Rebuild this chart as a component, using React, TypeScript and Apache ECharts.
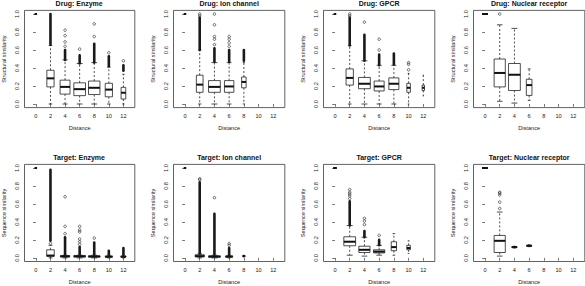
import React, { useEffect, useRef } from "react";
import * as echarts from "echarts";

// ---------- data ----------
const distances = [0, 2, 4, 6, 8, 10, 12];
const yTicks = [0, 0.2, 0.4, 0.6, 0.8, 1.0];

const panelTitles = [
  "Drug: Enzyme",
  "Drug: Ion channel",
  "Drug: GPCR",
  "Drug: Nuclear receptor",
  "Target: Enzyme",
  "Target: Ion channel",
  "Target: GPCR",
  "Target: Nuclear receptor",
];
const drugYLabel = "Structural similarity";
const targetYLabel = "Sequence similarity";
const xLabel = "Distance";

// box rows: [distance, lowerWhisker, q1, median, q3, upperWhisker, relativeGroupSize(sqrt n / max)]
// dense outlier runs: [distance, from, to]
// single outliers: [distance, value]

const drugEnzymeBoxes = [
  [0, 1, 1, 1, 1, 1, 0.2],
  [2, 0, 0.19, 0.285, 0.375, 0.65, 0.62],
  [4, 0, 0.11, 0.19, 0.265, 0.49, 0.85],
  [6, 0, 0.093, 0.165, 0.235, 0.45, 1.0],
  [8, 0, 0.105, 0.18, 0.255, 0.46, 0.98],
  [10, 0, 0.08, 0.16, 0.23, 0.41, 0.62],
  [12, 0, 0.055, 0.125, 0.185, 0.33, 0.4],
];
const drugEnzymeDense = [
  [2, 0.66, 1.0],
  [4, 0.49, 0.6],
  [6, 0.45, 0.54],
  [8, 0.46, 0.67],
  [10, 0.42, 0.53],
  [12, 0.37, 0.43],
];
const drugEnzymeOutliers = [
  [4, 0.64], [4, 0.69], [4, 0.76], [4, 0.82],
  [6, 0.61],
  [8, 0.75], [8, 0.89],
  [10, 0.57],
  [12, 0.48],
];

const drugIonBoxes = [
  [0, 1, 1, 1, 1, 1, 0.2],
  [2, 0, 0.13, 0.215, 0.32, 0.6, 0.57],
  [4, 0, 0.13, 0.19, 0.26, 0.46, 1.0],
  [6, 0, 0.13, 0.195, 0.26, 0.46, 0.8],
  [8, 0, 0.18, 0.245, 0.3, 0.46, 0.38],
];
const drugIonDense = [
  [2, 0.6, 0.96],
  [4, 0.47, 0.62],
  [6, 0.47, 0.6],
  [8, 0.48, 0.6],
];
const drugIonOutliers = [
  [2, 0.98], [2, 1.0],
  [4, 0.66], [4, 0.72], [4, 0.75], [4, 0.88], [4, 1.0],
  [6, 0.64], [6, 0.68], [6, 0.72], [6, 0.75],
];

const drugGpcrBoxes = [
  [0, 1, 1, 1, 1, 1, 0.2],
  [2, 0, 0.21, 0.29, 0.39, 0.65, 0.62],
  [4, 0, 0.17, 0.225, 0.295, 0.48, 1.0],
  [6, 0, 0.145, 0.195, 0.255, 0.43, 0.85],
  [8, 0, 0.16, 0.225, 0.29, 0.43, 0.85],
  [10, 0, 0.13, 0.18, 0.23, 0.34, 0.3],
  [12, 0.09, 0.15, 0.18, 0.21, 0.32, 0.2],
];
const drugGpcrDense = [
  [2, 0.65, 0.96],
  [4, 0.48, 0.77],
  [6, 0.43, 0.55],
  [8, 0.44, 0.56],
];
const drugGpcrOutliers = [
  [2, 0.98], [2, 1.0],
  [4, 0.91],
  [6, 0.6], [6, 0.72],
  [10, 0.38], [10, 0.44], [10, 0.46],
];

const drugNuclearBoxes = [
  [0, 1, 1, 1, 1, 1, 0.5],
  [2, 0.03, 0.19, 0.345, 0.5, 0.88, 0.95],
  [4, 0.01, 0.15, 0.325, 0.45, 0.84, 1.0],
  [6, 0.04, 0.095, 0.21, 0.275, 0.39, 0.48],
];
const drugNuclearDense: number[][] = [];
const drugNuclearOutliers = [[2, 1.0]];

const targetEnzymeBoxes = [
  [0, 1, 1, 1, 1, 1, 0.2],
  [2, 0, 0.018, 0.026, 0.09, 0.14, 0.65],
  [4, 0, 0.01, 0.018, 0.025, 0.03, 0.8],
  [6, 0, 0.01, 0.018, 0.025, 0.03, 1.0],
  [8, 0, 0.01, 0.016, 0.022, 0.03, 1.0],
  [10, 0, 0.008, 0.014, 0.02, 0.03, 0.62],
  [12, 0, 0.008, 0.014, 0.02, 0.03, 0.45],
];
const targetEnzymeDense = [
  [2, 0.19, 0.98],
  [4, 0.035, 0.23],
  [6, 0.035, 0.12],
  [8, 0.035, 0.17],
  [10, 0.035, 0.08],
  [12, 0.035, 0.11],
];
const targetEnzymeOutliers = [
  [2, 0.16],
  [4, 0.27], [4, 0.35], [4, 0.68],
  [6, 0.15], [6, 0.18], [6, 0.21], [6, 0.29], [6, 0.31], [6, 0.35],
  [8, 0.22],
];

const targetIonBoxes = [
  [0, 1, 1, 1, 1, 1, 0.2],
  [2, 0, 0.012, 0.02, 0.035, 0.045, 0.78],
  [4, 0, 0.008, 0.015, 0.022, 0.03, 1.0],
  [6, 0, 0.008, 0.015, 0.022, 0.03, 0.6],
  [8, 0.01, 0.015, 0.02, 0.025, 0.03, 0.22],
];
const targetIonDense = [
  [2, 0.05, 0.84],
  [4, 0.035, 0.49],
  [6, 0.035, 0.11],
];
const targetIonOutliers = [
  [2, 0.87], [2, 0.88],
  [4, 0.67],
  [6, 0.14], [6, 0.16],
];

const targetGpcrBoxes = [
  [0, 1, 1, 1, 1, 1, 0.3],
  [2, 0.03, 0.135, 0.18, 0.235, 0.36, 1.0],
  [4, 0.02, 0.06, 0.09, 0.13, 0.23, 0.95],
  [6, 0.03, 0.055, 0.07, 0.09, 0.14, 0.95],
  [8, 0.03, 0.08, 0.12, 0.18, 0.27, 0.45],
  [10, 0.05, 0.09, 0.11, 0.14, 0.19, 0.3],
];
const targetGpcrDense = [
  [2, 0.36, 0.63],
  [4, 0.23, 0.3],
  [6, 0.14, 0.2],
];
const targetGpcrOutliers = [
  [2, 0.66], [2, 0.69], [2, 0.71], [2, 0.73], [2, 0.76],
  [4, 0.37], [4, 0.41], [4, 0.44],
  [6, 0.25],
];

const targetNuclearBoxes = [
  [0, 1, 1, 1, 1, 1, 0.5],
  [2, 0.02, 0.06, 0.19, 0.25, 0.51, 0.95],
  [4, 0.11, 0.115, 0.12, 0.125, 0.13, 0.45],
  [6, 0.125, 0.13, 0.135, 0.14, 0.145, 0.45],
];
const targetNuclearDense: number[][] = [];
const targetNuclearOutliers = [
  [2, 0.55], [2, 0.62], [2, 0.7], [2, 0.72], [2, 0.73],
];

// ---------- layout / style ----------
const FONT = "'Liberation Sans', Arial, Helvetica, sans-serif";
const INK = "#222";
const FRAME = "#3a3a3a";
const colLeft = [23.5, 173.5, 323.5, 473.5];
const rowTop = [10.4, 164.4];
const PW = 111.3;
const PH = 97.2;
const BOX_WEX = 1.6; // 0.8 of a category (2 distance units)

const panels = [
  { boxes: drugEnzymeBoxes, dense: drugEnzymeDense, outliers: drugEnzymeOutliers, ylab: drugYLabel },
  { boxes: drugIonBoxes, dense: drugIonDense, outliers: drugIonOutliers, ylab: drugYLabel },
  { boxes: drugGpcrBoxes, dense: drugGpcrDense, outliers: drugGpcrOutliers, ylab: drugYLabel },
  { boxes: drugNuclearBoxes, dense: drugNuclearDense, outliers: drugNuclearOutliers, ylab: drugYLabel },
  { boxes: targetEnzymeBoxes, dense: targetEnzymeDense, outliers: targetEnzymeOutliers, ylab: targetYLabel },
  { boxes: targetIonBoxes, dense: targetIonDense, outliers: targetIonOutliers, ylab: targetYLabel },
  { boxes: targetGpcrBoxes, dense: targetGpcrDense, outliers: targetGpcrOutliers, ylab: targetYLabel },
  { boxes: targetNuclearBoxes, dense: targetNuclearDense, outliers: targetNuclearOutliers, ylab: targetYLabel },
];

function renderBox(params: any, api: any) {
  const x = api.value(0);
  const lo = api.value(1);
  const q1 = api.value(2);
  const med = api.value(3);
  const q3 = api.value(4);
  const hi = api.value(5);
  const rw = api.value(6);
  const half = api.size([BOX_WEX * rw, 0])[0] / 2;
  const pLo = api.coord([x, lo]);
  const pQ1 = api.coord([x, q1]);
  const pMed = api.coord([x, med]);
  const pQ3 = api.coord([x, q3]);
  const pHi = api.coord([x, hi]);
  const cx = pMed[0];
  const st = half / 2;
  const lineStyle = { stroke: INK, lineWidth: 0.8, fill: null };
  const dashStyle = { stroke: INK, lineWidth: 0.8, lineDash: [2, 2], fill: null };
  return {
    type: "group",
    children: [
      { type: "line", shape: { x1: cx, y1: pQ1[1], x2: cx, y2: pLo[1] }, style: dashStyle },
      { type: "line", shape: { x1: cx, y1: pQ3[1], x2: cx, y2: pHi[1] }, style: dashStyle },
      { type: "line", shape: { x1: cx - st, y1: pLo[1], x2: cx + st, y2: pLo[1] }, style: lineStyle },
      { type: "line", shape: { x1: cx - st, y1: pHi[1], x2: cx + st, y2: pHi[1] }, style: lineStyle },
      {
        type: "rect",
        shape: { x: cx - half, y: pQ3[1], width: 2 * half, height: pQ1[1] - pQ3[1] },
        style: { fill: "#fff", stroke: INK, lineWidth: 0.8 },
      },
      { type: "line", shape: { x1: cx - half, y1: pMed[1], x2: cx + half, y2: pMed[1] }, style: { stroke: "#111", lineWidth: 2 } },
    ],
  };
}

function renderDense(params: any, api: any) {
  const x = api.value(0);
  const a = api.coord([x, api.value(1)]);
  const b = api.coord([x, api.value(2)]);
  const w = 2.6;
  return {
    type: "rect",
    shape: { x: a[0] - w / 2, y: b[1] - w / 2, width: w, height: a[1] - b[1] + w, r: w / 2 },
    style: { fill: "#1a1a1a" },
  };
}

function buildOption() {
  const grid: any[] = [];
  const xAxis: any[] = [];
  const yAxis: any[] = [];
  const series: any[] = [];
  const title: any[] = [];
  panels.forEach((p, i) => {
    const col = i % 4;
    const row = Math.floor(i / 4);
    grid.push({
      left: colLeft[col],
      top: rowTop[row],
      width: PW,
      height: PH,
      show: true,
      borderColor: FRAME,
      borderWidth: 0.8,
      backgroundColor: "transparent",
      containLabel: false,
    });
    xAxis.push({
      gridIndex: i,
      type: "value",
      min: -1.56,
      max: 13.56,
      name: xLabel,
      nameLocation: "middle",
      nameGap: 17.5,
      nameTextStyle: { fontFamily: FONT, fontSize: 5.6, color: INK },
      axisLine: { show: false },
      splitLine: { show: false },
      axisTick: { show: true, length: 2.8, customValues: distances, lineStyle: { color: FRAME, width: 0.7 } },
      axisLabel: {
        customValues: distances,
        fontFamily: FONT,
        fontSize: 5.6,
        color: INK,
        margin: 5,
        formatter: (v: number) => String(v),
      },
    });
    yAxis.push({
      gridIndex: i,
      type: "value",
      min: -0.04,
      max: 1.04,
      name: p.ylab,
      nameLocation: "middle",
      nameRotate: 90,
      nameGap: 17.5,
      nameTextStyle: { fontFamily: FONT, fontSize: 5.6, color: INK },
      axisLine: { show: false },
      splitLine: { show: false },
      axisTick: { show: true, length: 2.8, customValues: yTicks, lineStyle: { color: FRAME, width: 0.7 } },
      axisLabel: {
        customValues: yTicks,
        rotate: 90,
        fontFamily: FONT,
        fontSize: 5.6,
        color: INK,
        margin: 5,
        formatter: (v: number) => v.toFixed(1),
      },
    });
    title.push({
      text: panelTitles[i],
      left: colLeft[col] + PW / 2,
      top: row === 0 ? 0 : 153.5,
      textAlign: "center",
      padding: 0,
      textStyle: { fontFamily: FONT, fontSize: 7, fontWeight: "bold", color: "#111" },
    });
    series.push({
      type: "custom",
      xAxisIndex: i,
      yAxisIndex: i,
      data: p.boxes,
      renderItem: renderBox,
      silent: true,
      clip: false,
      encode: { x: 0, y: [1, 5] },
    });
    series.push({
      type: "custom",
      xAxisIndex: i,
      yAxisIndex: i,
      data: p.dense,
      renderItem: renderDense,
      silent: true,
      clip: false,
      encode: { x: 0, y: [1, 2] },
    });
    series.push({
      type: "scatter",
      xAxisIndex: i,
      yAxisIndex: i,
      data: p.outliers,
      symbol: "circle",
      symbolSize: 2.6,
      silent: true,
      itemStyle: { color: "rgba(0,0,0,0)", borderColor: INK, borderWidth: 0.8 },
    });
  });
  return {
    animation: false,
    backgroundColor: "#fff",
    title,
    grid,
    xAxis,
    yAxis,
    series,
  };
}

export default function App() {
  const ref = useRef<HTMLDivElement>(null);
  useEffect(() => {
    if (!ref.current) return;
    const chart = echarts.init(ref.current, undefined, { renderer: "svg" });
    chart.setOption(buildOption() as any);
    return () => chart.dispose();
  }, []);
  return (
    <div
      ref={ref}
      style={{ position: "absolute", left: 0, top: 0, width: 585, height: 286, background: "#fff" }}
    />
  );
}
